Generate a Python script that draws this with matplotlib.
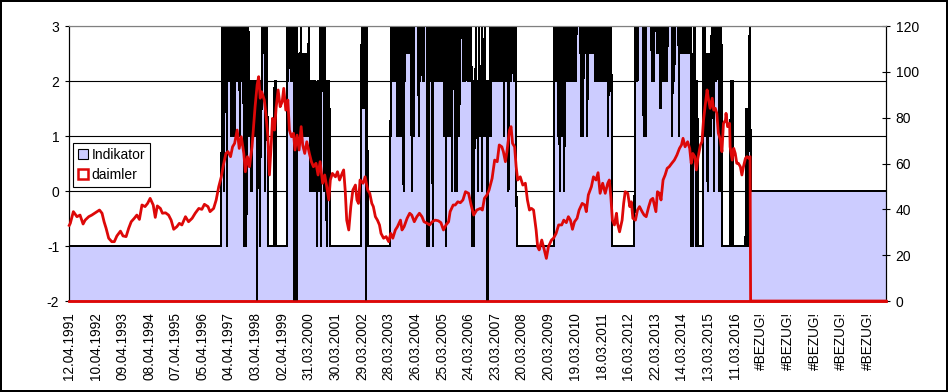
import matplotlib
matplotlib.use('Agg')
import matplotlib.pyplot as plt
from matplotlib.patches import Patch
import numpy as np

plt.rcParams['font.family'] = ['Liberation Sans', 'DejaVu Sans']
plt.rcParams['axes.unicode_minus'] = False

n_weeks = 1596

tick_labels = ['12.04.1991', '10.04.1992', '09.04.1993', '08.04.1994', '07.04.1995',
               '05.04.1996', '04.04.1997', '03.04.1998', '02.04.1999', '31.03.2000',
               '30.03.2001', '29.03.2002', '28.03.2003', '26.03.2004', '25.03.2005',
               '24.03.2006', '23.03.2007', '20.03.2008', '20.03.2009', '19.03.2010',
               '18.03.2011', '16.03.2012', '22.03.2013', '14.03.2014', '13.03.2015',
               '11.03.2016', '#BEZUG!', '#BEZUG!', '#BEZUG!', '#BEZUG!', '#BEZUG!']

# Indikator: tuple = flat run (level, weeks), string = one char per week
level_code = {'n': -2, 'm': -1, '0': 0, '1': 1, 'g': 1.5, '2': 2, 'h': 2.5, '3': 3}
indikator_parts = [
    (-1, 298),
    '3323033232m332322312321332132',
    '3332331333233',
    '21m323m2313212120212121212 1n12120m212'.replace(' ', ''),
    '3h3h3h03h32',
    (-1, 13),
    '222',
    (-1, 22),
    '332333h2332332n3h23nh1h2h13h1h2h1g2h1h2h1h3',
    '202120102021201m2010232m32323032' + '10m21021g',
    (-1, 61),
    '3g3g23g3gng3',
    (-1, 45),
    '32323232323231312132313330323',
    '3h3h3h3h3h3h033313333333321232333332333333',
    'm33m3323332m32323332323233232332',
    '31213m2131321231303333303330333133',
    '33332333323332323232',
    '32m212m2132120213121203212131212n12123123',
    '323232323232323232323',
    '33133332333033332333323333',
    'g',
    (-1, 73),
    '32323232123021321323023232323232323232323232',
    '3333333',
    'h313h313h3h3h313h3h3h3h3h3h33',
    '323332333233323332333233',
    '321323233',
    (-1, 45),
    '323232333333333331313133333333333233323333',
    '3h3h3h33g33232323332323333333331333233333333133',
    '3h3h33h3h33h3h33h3h3',
    '3mhm2m3332m2m2m',
    (-1, 10),
    '3h3',
    '1h1h10h1h2h1h333303333233330303030',
    (-1, 16),
    '202m2',
    (-1, 25),
    'g1g1m1g3g1',
    (0, 265),
]

daimler_week = [0, 2, 8, 15, 21, 27, 31, 38, 44, 51, 59, 64, 68, 72, 77, 83, 88, 93, 100,
                105, 111, 116, 121, 127, 132, 137, 142, 148, 153, 158, 164, 168, 172, 178,
                182, 188, 194, 199, 204, 210, 215, 220, 227, 233, 240, 246,
                253, 259, 264, 271, 275, 282, 287, 292, 297, 301, 306, 310, 315, 319, 323,
                328, 332, 336, 341, 344, 348, 352, 357, 360, 363, 367, 370, 373, 376, 381,
                384, 388, 391, 395, 397, 401, 404, 408, 412, 416, 419, 423, 427, 430, 434,
                438, 441, 445, 449, 453, 456, 460, 464, 469, 473, 477, 482, 486, 490, 495,
                499, 503, 507, 510, 514,
                520, 524, 528, 533, 536, 539, 542, 546, 550, 554, 559, 562, 565, 568, 574,
                578, 583, 587, 591, 594, 598, 602, 606, 609, 614, 619, 624, 628, 632, 637,
                641, 647, 650, 654, 660, 665, 669, 674, 679, 684, 689, 693, 699, 704, 709,
                715, 721, 726, 731, 736, 741, 744, 750, 754, 759, 764, 769, 774, 780,
                785, 790, 796, 803, 807, 811, 816, 820, 826, 831, 836, 840, 845, 848, 852,
                855, 860, 863, 866, 870, 873, 876, 881, 886, 891, 895, 899, 903, 907, 912,
                915, 918, 923, 928, 932, 936, 942, 946, 951, 956, 962, 966, 971, 975, 979,
                983, 987, 992, 996, 1002, 1007, 1010, 1014, 1020, 1024, 1029, 1033, 1037, 1042,
                1047, 1052, 1055, 1058, 1061, 1065, 1069, 1071, 1075, 1080, 1083, 1086, 1091,
                1095, 1098, 1101, 1106, 1110, 1114, 1119, 1123, 1127, 1132, 1136, 1140, 1143,
                1146, 1149, 1153, 1156, 1160, 1164, 1168, 1172, 1177, 1182, 1187, 1192, 1196,
                1199, 1203, 1208, 1212, 1215, 1218, 1222, 1225, 1228, 1233, 1236, 1239, 1242,
                1246, 1249, 1252, 1256, 1259, 1262, 1265, 1268, 1272,
                1275, 1278, 1282, 1283, 1286, 1290, 1291, 1295, 1298, 1301, 1304, 1307, 1311,
                1314, 1317, 1321, 1324, 1327, 1330, 1331, 1595]
daimler_value = [33.0, 33.9, 39.0, 36.8, 37.5, 33.6, 35.3, 36.8, 37.5, 38.5, 39.7, 38.3, 34.6,
                 31.7, 27.4, 25.9, 25.9, 28.4, 30.5, 28.4, 28.1, 31.7, 34.6, 36.1, 37.5, 35.6,
                 41.9, 41.2, 42.6, 44.8, 41.9, 36.5, 41.5, 40.4, 38.3, 38.5, 37.5, 35.3, 31.3,
                 32.4, 33.9, 33.2, 36.8, 34.6, 36.1, 38.3,
                 40.4, 40.0, 42.2, 41.2, 39.0, 40.4, 44.1, 49.9, 54.2, 59.3, 64.4, 65.2, 63.0,
                 67.3, 68.8, 74.6, 66.6, 71.7, 64.4, 56.4, 63.0, 58.6, 67.3, 76.1, 84.8, 94.3,
                 97.9, 88.5, 91.3, 87.7, 81.9, 71.7, 55.0, 70.3, 79.7, 74.6, 84.1, 92.1, 84.8,
                 87.0, 92.8, 83.3, 87.7, 74.6, 71.7, 73.2, 65.9, 72.4, 65.9, 76.1, 68.1, 64.4,
                 69.5, 64.4, 60.8, 58.6, 60.1, 55.0, 60.8, 51.4, 55.0, 49.9, 44.1, 52.8, 55.7,
                 54.2, 56.4, 52.8, 55.7, 57.2, 48.4, 35.3, 31.0, 41.2, 48.4, 50.6, 44.1, 42.6,
                 52.8, 51.4, 54.2, 48.4, 47.0, 42.6, 41.2, 36.8, 35.3, 33.2, 29.5, 27.4, 28.1,
                 25.9, 29.5, 27.4, 31.0, 32.4, 35.3, 31.0, 32.4, 36.1, 38.3, 37.5, 34.6, 36.8,
                 38.3, 36.8, 34.6, 33.9, 33.2, 34.6, 35.3, 35.0, 34.2, 31.0, 33.2, 34.6, 39.0,
                 41.9, 41.9, 43.3, 42.9, 44.1, 47.7, 47.0,
                 41.9, 37.5, 39.7, 40.4, 39.7, 44.8, 46.3, 48.4, 53.5, 61.5, 60.8, 68.1, 67.3,
                 65.2, 60.8, 65.2, 74.6, 76.1, 68.8, 67.3, 58.6, 52.8, 54.2, 50.6, 51.4, 44.1,
                 39.7, 40.4, 39.7, 31.0, 23.7, 22.3, 26.6, 22.3, 18.6, 23.7, 26.6, 27.4, 29.5,
                 33.2, 33.2, 35.3, 34.2, 36.8, 35.3, 31.3, 34.6, 36.1, 39.7, 42.6, 41.9, 39.0,
                 46.3, 49.9, 54.2, 52.8, 56.0, 47.0, 51.4,
                 47.0, 51.4, 52.8, 45.5, 35.3, 33.2, 38.3, 33.9, 30.2, 35.3, 42.6, 47.7, 47.0,
                 41.2, 43.3, 36.1, 35.3, 39.7, 41.2, 39.0, 37.5, 36.8, 41.2, 44.1, 44.8, 41.9,
                 39.0, 47.7, 47.0, 44.1, 52.8, 55.0, 57.9, 58.6, 60.1, 61.5, 63.7, 66.6, 68.1,
                 71.0, 67.3, 69.5, 66.6, 60.1, 64.4, 63.0, 57.2, 62.3, 68.1, 69.5, 79.0, 84.8,
                 92.1, 87.7, 84.1, 88.5, 83.3, 84.1, 81.9, 73.2, 70.3,
                 65.2, 77.5, 79.0, 81.9, 76.1, 77.5, 67.3, 61.5, 66.6, 64.4, 60.1, 60.1, 58.6,
                 55.0, 58.6, 62.3, 63.0, 62.3, 63.0, 0, 0]

indikator = []
for part in indikator_parts:
    if isinstance(part, tuple):
        indikator += [part[0]] * part[1]
    else:
        indikator += [level_code[c] for c in part]
indikator = np.array(indikator[:n_weeks], dtype=float)
weeks = np.arange(len(indikator))

red = '#DD0808'
blue = '#CCCCFF'

fig = plt.figure(figsize=(9.48, 3.92), dpi=100)
fig.patch.set_edgecolor('black')
fig.patch.set_linewidth(1.5)
ax = fig.add_axes([0.0728, 0.2321, 0.8618, 0.7015])

ax.fill_between(weeks, -2, indikator, color=blue, lw=0, antialiased=False, zorder=2)
ax.plot(weeks, indikator, color='black', lw=0.75, antialiased=False, zorder=3)
ax.set_xlim(-0.5, n_weeks - 0.5)
ax.set_ylim(-2, 3)
ax.set_yticks(range(-2, 4))
ax.yaxis.grid(True, color='black', lw=0.8)
ax.set_axisbelow(True)
ax.yaxis.get_gridlines()[-1].set_color('#808080')
ax.set_xticks(list(range(0, n_weeks, 52))[:len(tick_labels)])
ax.set_xticklabels(tick_labels, rotation=90)
ax.tick_params(axis='x', length=0, pad=8, labelsize=9.8)
ax.tick_params(axis='y', length=3, width=0.8, pad=4, labelsize=10)

ax2 = ax.twinx()
ax2.plot(daimler_week, daimler_value, color=red, lw=2.0, clip_on=False, zorder=4)
ax2.set_ylim(0, 120)
ax2.set_yticks(range(0, 121, 20))
ax2.tick_params(axis='y', direction='inout', length=6, width=0.8, pad=4, labelsize=10)

for a in (ax, ax2):
    a.spines['top'].set_color('#808080')
    a.spines['top'].set_linewidth(0.8)
    a.spines['left'].set_linewidth(0.8)
    a.spines['right'].set_linewidth(0.8)
    a.spines['bottom'].set_color(red)
    a.spines['bottom'].set_linewidth(1.8)

handles = [Patch(facecolor=blue, edgecolor='black', lw=0.8),
           Patch(facecolor='white', edgecolor=red, lw=1.8)]
leg = ax2.legend(handles, ['Indikator', 'daimler'], loc='upper left',
                 bbox_to_anchor=(0.005, 0.575), borderaxespad=0, fancybox=False,
                 framealpha=1, edgecolor='black', fontsize=10, handlelength=0.7,
                 handleheight=0.7, handletextpad=0.3, borderpad=0.35, labelspacing=0.45)
leg.get_frame().set_linewidth(0.8)

fig.savefig('out.png', dpi=100)
